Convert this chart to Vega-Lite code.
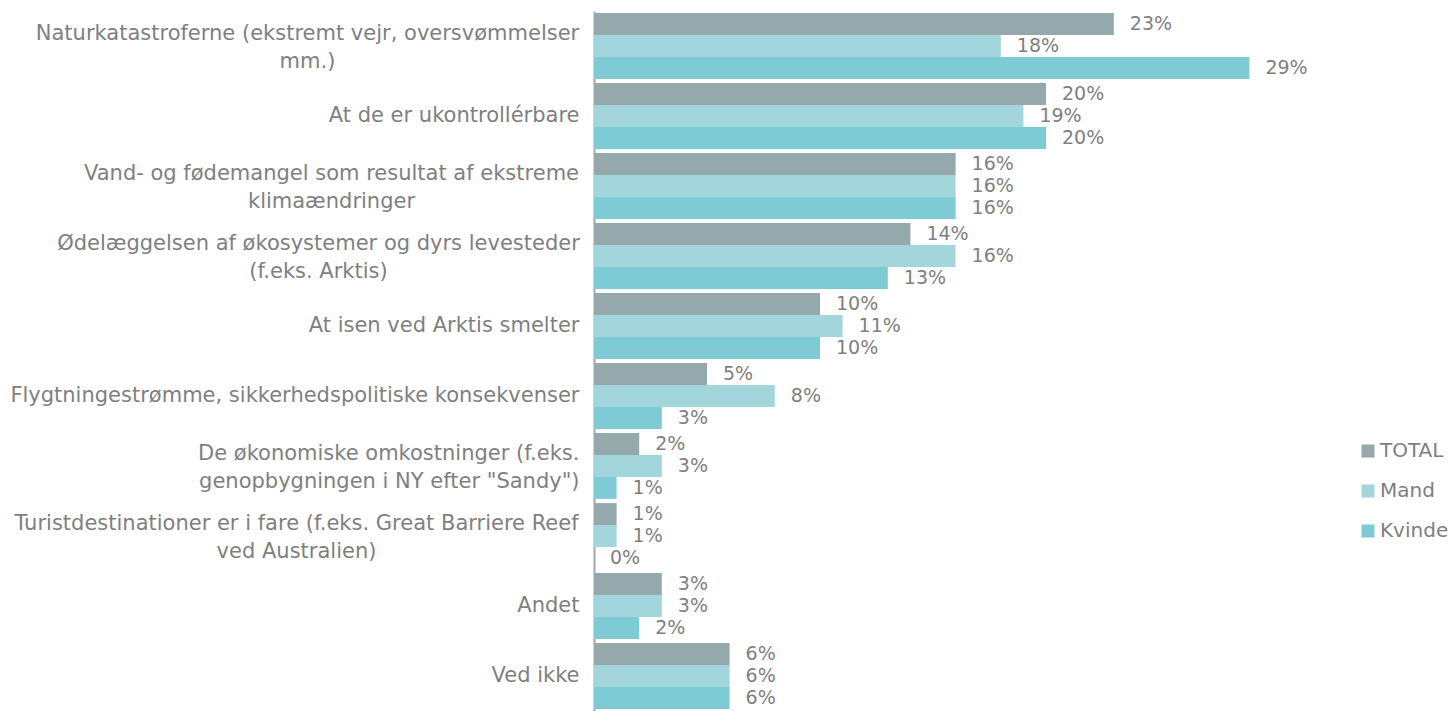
{
  "$schema": "https://vega.github.io/schema/vega-lite/v6.json",
  "autosize": {"type": "none"},
  "padding": {"left": 594, "top": 11, "right": 129, "bottom": 0},
  "width": 730,
  "height": 700,
  "config": {"view": {"stroke": null}, "font": "DejaVu Sans"},
  "data": {"values": [
    {"cat": "Naturkatastroferne (ekstremt vejr, oversvømmelser|mm.)", "series": "TOTAL", "value": 0.23},
    {"cat": "Naturkatastroferne (ekstremt vejr, oversvømmelser|mm.)", "series": "Mand", "value": 0.18},
    {"cat": "Naturkatastroferne (ekstremt vejr, oversvømmelser|mm.)", "series": "Kvinde", "value": 0.29},
    {"cat": "At de er ukontrollérbare", "series": "TOTAL", "value": 0.20},
    {"cat": "At de er ukontrollérbare", "series": "Mand", "value": 0.19},
    {"cat": "At de er ukontrollérbare", "series": "Kvinde", "value": 0.20},
    {"cat": "Vand- og fødemangel som resultat af ekstreme|klimaændringer", "series": "TOTAL", "value": 0.16},
    {"cat": "Vand- og fødemangel som resultat af ekstreme|klimaændringer", "series": "Mand", "value": 0.16},
    {"cat": "Vand- og fødemangel som resultat af ekstreme|klimaændringer", "series": "Kvinde", "value": 0.16},
    {"cat": "Ødelæggelsen af økosystemer og dyrs levesteder|(f.eks. Arktis)", "series": "TOTAL", "value": 0.14},
    {"cat": "Ødelæggelsen af økosystemer og dyrs levesteder|(f.eks. Arktis)", "series": "Mand", "value": 0.16},
    {"cat": "Ødelæggelsen af økosystemer og dyrs levesteder|(f.eks. Arktis)", "series": "Kvinde", "value": 0.13},
    {"cat": "At isen ved Arktis smelter", "series": "TOTAL", "value": 0.10},
    {"cat": "At isen ved Arktis smelter", "series": "Mand", "value": 0.11},
    {"cat": "At isen ved Arktis smelter", "series": "Kvinde", "value": 0.10},
    {"cat": "Flygtningestrømme, sikkerhedspolitiske konsekvenser", "series": "TOTAL", "value": 0.05},
    {"cat": "Flygtningestrømme, sikkerhedspolitiske konsekvenser", "series": "Mand", "value": 0.08},
    {"cat": "Flygtningestrømme, sikkerhedspolitiske konsekvenser", "series": "Kvinde", "value": 0.03},
    {"cat": "De økonomiske omkostninger (f.eks.|genopbygningen i NY efter \"Sandy\")", "series": "TOTAL", "value": 0.02},
    {"cat": "De økonomiske omkostninger (f.eks.|genopbygningen i NY efter \"Sandy\")", "series": "Mand", "value": 0.03},
    {"cat": "De økonomiske omkostninger (f.eks.|genopbygningen i NY efter \"Sandy\")", "series": "Kvinde", "value": 0.01},
    {"cat": "Turistdestinationer er i fare (f.eks. Great Barriere Reef|ved Australien)", "series": "TOTAL", "value": 0.01},
    {"cat": "Turistdestinationer er i fare (f.eks. Great Barriere Reef|ved Australien)", "series": "Mand", "value": 0.01},
    {"cat": "Turistdestinationer er i fare (f.eks. Great Barriere Reef|ved Australien)", "series": "Kvinde", "value": 0.0},
    {"cat": "Andet", "series": "TOTAL", "value": 0.03},
    {"cat": "Andet", "series": "Mand", "value": 0.03},
    {"cat": "Andet", "series": "Kvinde", "value": 0.02},
    {"cat": "Ved ikke", "series": "TOTAL", "value": 0.06},
    {"cat": "Ved ikke", "series": "Mand", "value": 0.06},
    {"cat": "Ved ikke", "series": "Kvinde", "value": 0.06}
  ]},
  "encoding": {
    "y": {
      "field": "cat", "type": "nominal", "sort": null,
      "scale": {"paddingInner": 0.06, "paddingOuter": 0.03},
      "axis": {
        "title": null, "ticks": false, "labelExpr": "split(datum.label, '|')",
        "labelFontSize": 21, "labelColor": "#7f7f7f",
        "labelLimit": 700, "labelLineHeight": 28,
        "labelAlign": {
          "condition": {"test": "indexof(datum.value, '|') >= 0 && indexof(datum.value, 'De øko') < 0", "value": "center"},
          "value": "right"
        },
        "labelPadding": {
          "condition": [
            {"test": "indexof(datum.value, 'Naturkat') >= 0", "value": 287},
            {"test": "indexof(datum.value, 'Vand-') >= 0", "value": 263},
            {"test": "indexof(datum.value, 'Ødelæg') >= 0", "value": 276},
            {"test": "indexof(datum.value, 'Turist') >= 0", "value": 298}
          ],
          "value": 15
        },
        "labelOffset": {
          "condition": {"test": "indexof(datum.value, '|') >= 0", "value": -12},
          "value": 0
        },
        "domainColor": "#a6a6a6", "domainWidth": 2
      }
    },
    "yOffset": {"field": "series", "type": "nominal", "sort": ["TOTAL", "Mand", "Kvinde"]},
    "x": {"field": "value", "type": "quantitative", "scale": {"domain": [0, 0.323]}, "axis": null}
  },
  "layer": [
    {
      "mark": {"type": "bar"},
      "encoding": {
        "color": {
          "field": "series", "type": "nominal",
          "scale": {"domain": ["TOTAL", "Mand", "Kvinde"], "range": ["#95a8ab", "#a2d5dc", "#7ecbd6"]},
          "legend": {
            "title": null, "orient": "none", "legendX": 764, "legendY": 430,
            "symbolType": "square", "symbolSize": 169, "symbolStrokeWidth": 0,
            "labelFontSize": 20, "labelColor": "#7f7f7f", "rowPadding": 20, "labelOffset": 2
          }
        }
      }
    },
    {
      "mark": {"type": "text", "align": "left", "baseline": "middle", "dx": 16, "fontSize": 19, "color": "#7f7f7f"},
      "encoding": {"text": {"field": "value", "type": "quantitative", "format": ".0%"}}
    }
  ]
}
